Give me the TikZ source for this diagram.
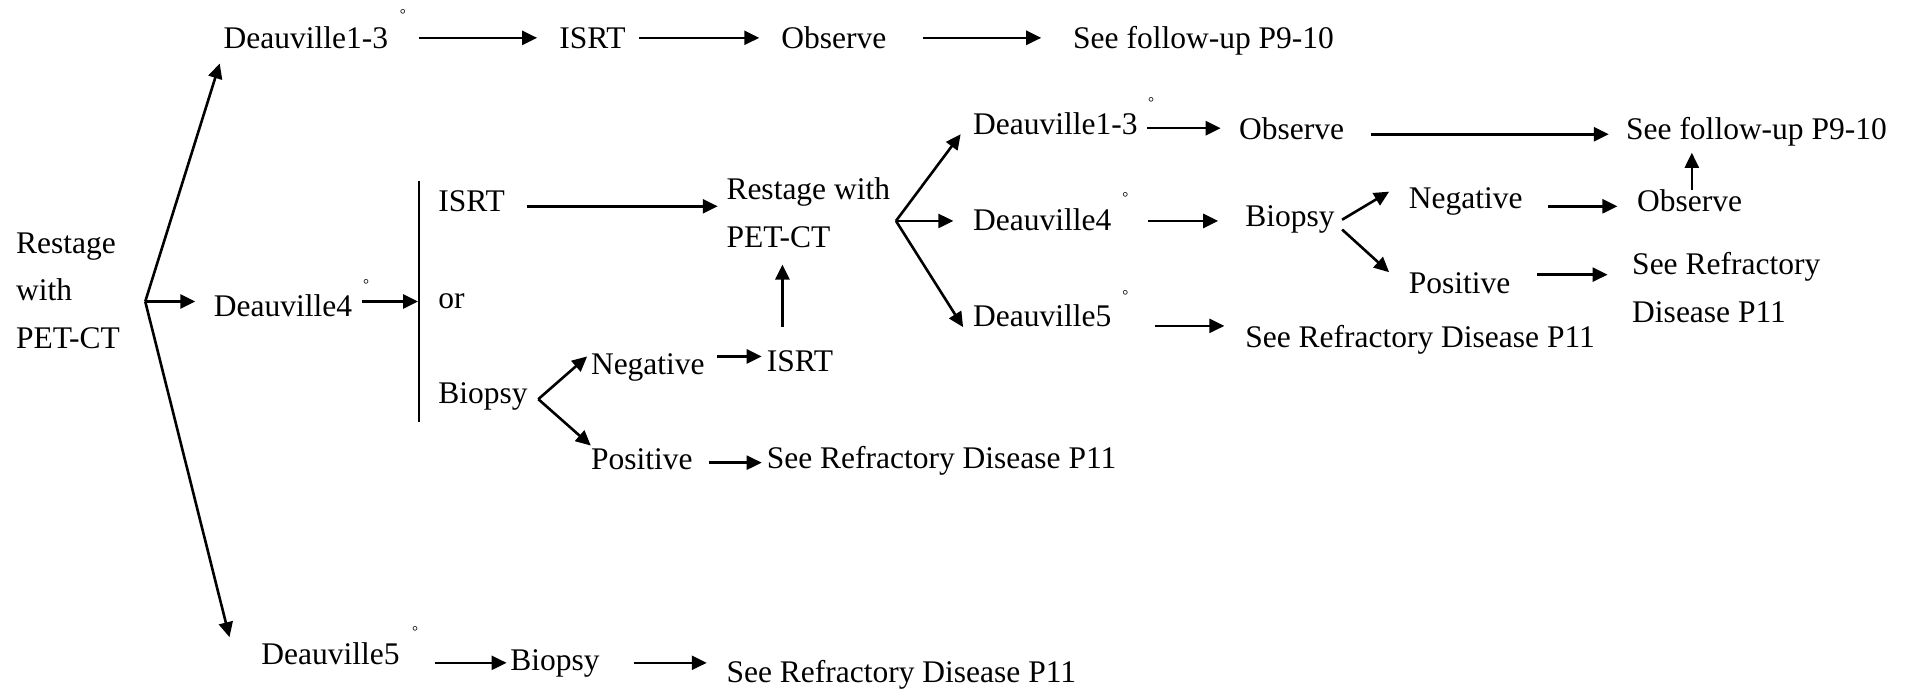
\documentclass[tikz,border=0pt]{standalone}
\usepackage{fontspec}
\setmainfont{Liberation Serif}
\usetikzlibrary{arrows.meta,calc}
\tikzset{
  txt/.style={anchor=west, inner sep=0pt, text height=21.4pt, text depth=0.6pt, font=\fontsize{31.5}{47.6}\selectfont},
  ml/.style={anchor=west, inner sep=0pt, align=left, font=\fontsize{31.5}{47.6}\selectfont},
  deg/.style={anchor=north, inner sep=0pt, font=\fontsize{15}{15}\selectfont},
  arr/.style={line width=2.6pt, -{Triangle[length=15pt,width=14pt]}},
  bar/.style={line width=1.8pt}
}
\begin{document}
\begin{tikzpicture}[x=1.2207pt, y=-1.2207pt]
\useasboundingbox (0,0) rectangle (1568,565);

% left start
\node[ml] (rs) at (13,238) {Restage\\with\\PET-CT};
\coordinate (b0) at (119,247);

% top row
\node[txt] (d13a) at (183,31) {Deauville1-3};
\node[deg] (g1) at (330,7.5) {°};
\node[txt] (isrt1) at (458,31) {ISRT};
\node[txt] (obs1) at (640,31) {Observe};
\node[txt] (see1) at (879,31) {See follow-up P9-10};

% middle left
\node[txt] (d4a) at (175,251) {Deauville4};
\node[deg] (g2) at (300,228.5) {°};
\coordinate (bt) at (343,148);
\coordinate (bb) at (343,346);
\node[txt] (isrt2) at (359,165) {ISRT};
\node[txt] (or) at (359,244) {or};
\node[txt] (bio1) at (359,322) {Biopsy};
\coordinate (bf1) at (441,327);
\node[txt] (neg1) at (484,298) {Negative};
\node[txt] (pos1) at (484,376) {Positive};
\node[txt] (isrt3) at (628,296) {ISRT};
\node[txt] (sr1) at (628,375) {See Refractory Disease P11};

% restage 2
\node[ml] (rw) at (595,174.5) {Restage with\\PET-CT};
\coordinate (f2) at (734,181);
\node[txt] (d13b) at (797,102) {Deauville1-3};
\node[deg] (g3) at (943,79.5) {°};
\node[txt] (d4b) at (797,180) {Deauville4};
\node[deg] (g4) at (922,157.5) {°};
\node[txt] (d5b) at (797,259) {Deauville5};
\node[deg] (g5) at (922,237.5) {°};
\node[txt] (obs2) at (1015,106) {Observe};
\node[txt] (see2) at (1332,106) {See follow-up P9-10};
\node[txt] (bio2) at (1020,177) {Biopsy};
\node[txt] (neg2) at (1154,162) {Negative};
\node[txt] (pos2) at (1154,232) {Positive};
\node[txt] (obs3) at (1341,165) {Observe};
\node[ml] (sr2) at (1337,235.5) {See Refractory\\Disease P11};
\node[txt] (sr3) at (1020,276) {See Refractory Disease P11};

% bottom row
\node[txt] (d5a) at (214,536) {Deauville5};
\node[deg] (g6) at (340,513.5) {°};
\node[txt] (bio3) at (418,541) {Biopsy};
\node[txt] (sr4) at (595,551) {See Refractory Disease P11};

% connectors: left fork
\draw[arr] (b0) -- ($(d13a.west)+(-3,21)$);
\draw[arr] (b0) -- ($(b0 -| d4a.west)+(-15,0)$);
\draw[arr] (b0) -- ($(d5a.west)+(-26,-14)$);

% top row
\draw[arr] ($(d13a.east)+(25,0)$) -- ($(d13a.east -| isrt1.west)+(-18,0)$);
\draw[arr] ($(isrt1.east)+(11,0)$) -- ($(isrt1.east -| obs1.west)+(-18,0)$);
\draw[arr] ($(obs1.east)+(30,0)$) -- ($(obs1.east -| see1.west)+(-26,0)$);

% middle left
\draw[bar] (bt) -- (bb);
\draw[arr] ($(d4a.east)+(8,-4)$) -- ($(d4a.east -| bt)+(-0.5,-4)$);
\draw[arr] ($(isrt2.east)+(18,4)$) -- ($(isrt2.east -| rw.west)+(-7,4)$);
\draw[arr] (bf1) -- ($(neg1.west)+(-3,-6)$);
\draw[arr] (bf1) -- ($(pos1.west)+(0,-11)$);
\draw[arr] ($(neg1.east)+(10,-6)$) -- ($(neg1.east -| isrt3.west)+(-4,-6)$);
\draw[arr] ($(isrt3.north west)+(13,-19)$) -- ($(isrt3.north west |- rw.south)+(13,13.5)$);
\draw[arr] ($(pos1.east)+(13,3)$) -- ($(pos1.east -| sr1.west)+(-4,3)$);

% restage 2 fork
\draw[arr] (f2) -- ($(d13b.west)+(-10,8)$);
\draw[arr] (f2) -- ($(f2 -| d4b.west)+(-16,0)$);
\draw[arr] (f2) -- ($(d5b.west)+(-8,9)$);
\draw[arr] ($(d13b.east)+(8,3)$) -- ($(d13b.east -| obs2.west)+(-15,3)$);
\draw[arr] ($(obs2.east)+(22,4)$) -- ($(obs2.east -| see2.west)+(-14,4)$);
\draw[arr] ($(d4b.east)+(30,1)$) -- ($(d4b.east -| bio2.west)+(-22,1)$);
\draw[arr] ($(bio2.east)+(6,3)$) -- ($(neg2.west)+(-16,-5)$);
\draw[arr] ($(bio2.east)+(6,11)$) -- ($(pos2.west)+(-16,-9)$);
\draw[arr] ($(neg2.east)+(21,7)$) -- ($(neg2.east -| obs3.west)+(-16,7)$);
\draw[arr] ($(obs3.north west)+(45,0)$) -- ($(obs3.north west |- see2.south)+(45,10)$);
\draw[arr] ($(pos2.east)+(22,-7)$) -- ($(pos2.east -| sr2.west)+(-20,-7)$);
\draw[arr] ($(d5b.east)+(36,8)$) -- ($(d5b.east -| sr3.west)+(-17,8)$);

% bottom row
\draw[arr] ($(d5a.east)+(29,7)$) -- ($(d5a.east -| bio3.west)+(-3,7)$);
\draw[arr] ($(bio3.east)+(28,2)$) -- ($(bio3.east -| sr4.west)+(-16,2)$);
\end{tikzpicture}
\end{document}
